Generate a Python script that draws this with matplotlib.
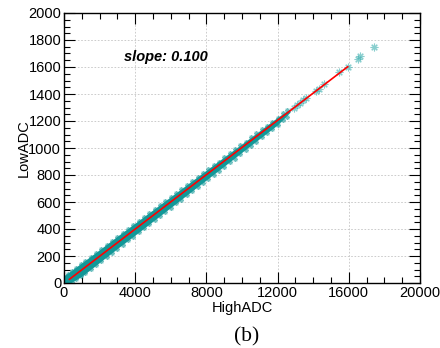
import matplotlib
matplotlib.use('Agg')
import matplotlib.pyplot as plt
from matplotlib.ticker import MultipleLocator

# dense band of events (edges)
band_x = [0, 300, 1000, 2000, 3000, 4000, 5000, 6000, 7000, 8000, 9000, 10000, 11000, 12000, 12700]
band_hi = [55, 82, 150, 247, 347, 444, 542, 640, 738, 836, 934, 1031, 1129, 1228, 1290]
band_lo = [-5, -4, 50, 153, 256, 356, 458, 560, 662, 764, 866, 969, 1071, 1172, 1265]

# individual events on the fuzzy edges of the band
edge_x = [200, 450, 700, 950, 1200, 1500, 1800, 2100, 2400, 2700, 3000, 3300, 3600, 3900,
          4200, 4500, 4800, 5100, 5400, 5700, 6000, 6300, 6600, 6900, 7200, 7500, 7800, 8100,
          8400, 8700, 9000, 9300, 9600, 9900, 10200, 10500, 10800, 11100, 11400, 11700, 12000,
          12300, 12500]
edge_hi = [65, 92, 112, 140, 162, 195, 222, 255, 280, 312, 340, 368, 402, 430, 462, 488, 520,
           548, 578, 608, 636, 668, 694, 726, 754, 784, 816, 842, 874, 900, 930, 960, 990, 1020,
           1048, 1080, 1108, 1138, 1166, 1196, 1225, 1256, 1278]
edge_lo = [2, 10, 28, 50, 75, 105, 135, 163, 196, 222, 255, 282, 315, 344, 377, 404, 436, 466,
           498, 526, 558, 590, 618, 650, 680, 712, 740, 772, 802, 832, 862, 894, 922, 954, 985,
           1016, 1046, 1078, 1108, 1140, 1170, 1204, 1228]

# sparse high-amplitude events
tail_x = [12900, 13070, 13250, 13440, 13600, 14140, 14300, 14600, 15470, 15940, 16500, 16630, 17416]
tail_y = [1300, 1319, 1335, 1356, 1372, 1425, 1440, 1472, 1561, 1602, 1662, 1681, 1750]

# linear fit
fit_x = [300, 15940]
fit_y = [27, 1602]

teal = '#129898'
star = (8, 2, 0)

plt.rcParams['font.family'] = ['Liberation Sans', 'DejaVu Sans']

fig = plt.figure(figsize=(4.4, 3.48), dpi=100)
ax = fig.add_axes([64 / 440, 1 - 283 / 348, 356 / 440, 270 / 348])

ax.fill_between(band_x, band_lo, band_hi, color=teal, lw=0, zorder=2)
ax.plot(edge_x, edge_hi, ls='none', marker=star, ms=3.5, mew=0.7, color=teal, alpha=0.6, zorder=2)
ax.plot(edge_x, edge_lo, ls='none', marker=star, ms=3.5, mew=0.7, color=teal, alpha=0.6, zorder=2)
ax.plot(tail_x, tail_y, ls='none', marker=star, ms=5.5, mew=0.8, color='#3aaeae', alpha=0.6, zorder=2)
ax.plot(fit_x, fit_y, color='#ff0000', lw=1.2, zorder=3)

ax.text(3370, 1674, 'slope: 0.100', fontsize=10.5, fontweight='bold', fontstyle='italic',
        va='center', ha='left')

ax.set_xlim(0, 20000)
ax.set_ylim(0, 2000)
ax.xaxis.set_major_locator(MultipleLocator(4000))
ax.xaxis.set_minor_locator(MultipleLocator(1000))
ax.yaxis.set_major_locator(MultipleLocator(200))
ax.yaxis.set_minor_locator(MultipleLocator(50))
ax.tick_params(which='both', direction='in', top=True, right=True, labelsize=10.5, width=0.8)
ax.tick_params(which='major', length=8, pad=2)
ax.tick_params(which='minor', length=4)
ax.grid(True, which='major', ls=(0, (2, 2)), color='#c4c4c4', lw=0.6, zorder=1)
for s in ax.spines.values():
    s.set_linewidth(1.0)

ax.set_xlabel('HighADC', fontsize=10.5, labelpad=1)
ax.set_ylabel('LowADC', fontsize=10.5, labelpad=-2)

fig.text(247 / 440, 1 - 337 / 348, '(b)', fontsize=15.5, family='Liberation Serif',
         ha='center', va='center')

fig.savefig('out.png', dpi=100)
